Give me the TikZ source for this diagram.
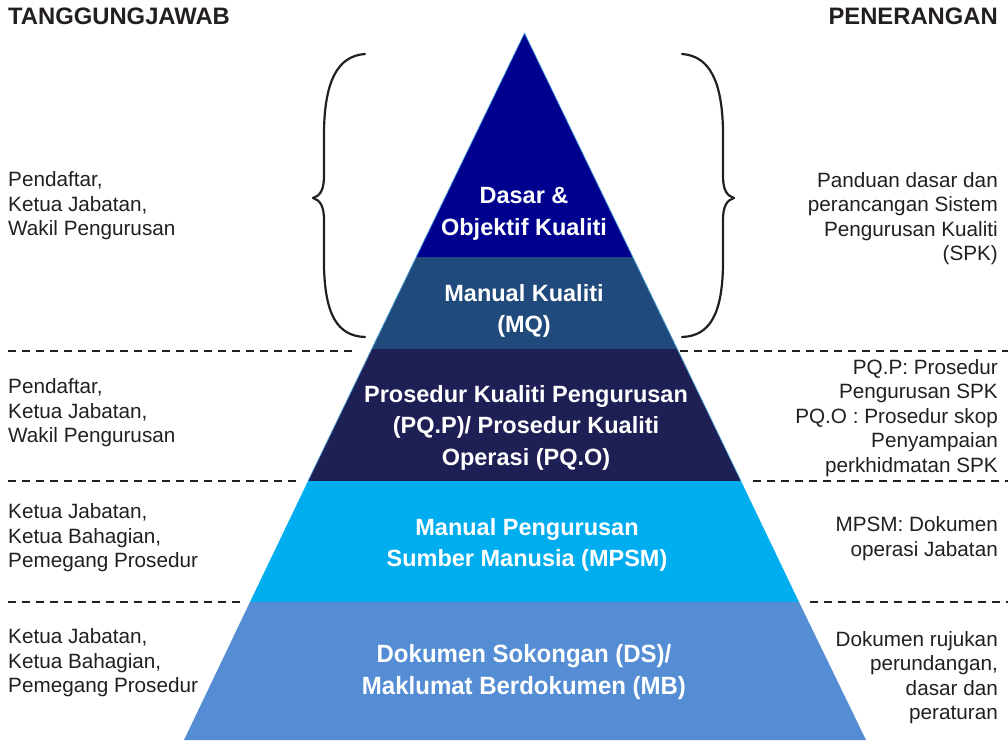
\documentclass[tikz,border=0pt]{standalone}
\usepackage{fontspec}
\setmainfont{Liberation Sans}
\usepackage{graphicx}
\definecolor{txt}{HTML}{231F20}
\definecolor{cA}{HTML}{00008F}
\definecolor{cB}{HTML}{214A7C}
\definecolor{cC}{HTML}{1E1F54}
\definecolor{cD}{HTML}{00ADEE}
\definecolor{cE}{HTML}{548DD4}
\definecolor{edge}{HTML}{4FB3E8}
\begin{document}
\begin{tikzpicture}[x=1pt,y=-1pt,
  side/.style={font=\fontsize{20.7}{24.5}\selectfont, text=txt, inner sep=0pt},
  lside/.style={side, anchor=west, align=left},
  rside/.style={side, anchor=east, align=right},
  head/.style={font=\bfseries\fontsize{23.8}{27}\selectfont, text=txt, inner sep=0pt},
  lay/.style={font=\bfseries\fontsize{23.5}{31.5}\selectfont, text=white, align=center, inner sep=0pt},
  sep/.style={txt, line width=1.2pt, dash pattern=on 8pt off 6pt},
  brace/.style={txt, line width=2.2pt, line cap=round, line join=round}]
\useasboundingbox (0,0) rectangle (1008,741);

% pyramid coordinates
\coordinate (ap) at (524.5,33);
\coordinate (a1) at (416,257);   \coordinate (b1) at (633,257);
\coordinate (a2) at (371.5,349); \coordinate (b2) at (677.5,349);
\coordinate (a3) at (308,481);   \coordinate (b3) at (741,481);
\coordinate (a4) at (250,602);   \coordinate (b4) at (799,602);
\coordinate (a5) at (184,740);   \coordinate (b5) at (866,740);

\fill[cA] (ap) -- (b1) -- (a1) -- cycle;
\fill[cB] (a1) -- (b1) -- (b2) -- (a2) -- cycle;
\fill[cC] (a2) -- (b2) -- (b3) -- (a3) -- cycle;
\fill[cD] (a3) -- (b3) -- (b4) -- (a4) -- cycle;
\fill[cE] (a4) -- (b4) -- (b5) -- (a5) -- cycle;
\draw[edge, line width=0.6pt] (a3) -- (ap) -- (b3);

% headers
\node[head, anchor=west] (hL) at (8,16) {TANGGUNGJAWAB};
\node[head, anchor=east] (hR) at (998,16) {PENERANGAN};

% layer labels
\node[lay] (l1) at (524,214) {Dasar \&\\Objektif Kualiti};
\node[lay] (l2) at (524,311) {Manual Kualiti\\(MQ)};
\node[lay] (l3) at (526,427.5) {Prosedur Kualiti Pengurusan\\(PQ.P)/ Prosedur Kualiti\\Operasi (PQ.O)};
\node[lay] (l4) at (527,545) {Manual Pengurusan\\Sumber Manusia (MPSM)};
\node[lay, font=\bfseries\fontsize{25}{32}\selectfont] (l5) at (524,672.5) {\scalebox{0.96}[1]{Dokumen Sokongan (DS)/}\\\scalebox{0.96}[1]{Maklumat Berdokumen (MB)}};

% left texts
\node[lside] (t1) at (8,206) {Pendaftar,\\Ketua Jabatan,\\Wakil Pengurusan};
\node[lside] (t2) at (8,413) {Pendaftar,\\Ketua Jabatan,\\Wakil Pengurusan};
\node[lside] (t3) at (8,538) {Ketua Jabatan,\\Ketua Bahagian,\\Pemegang Prosedur};
\node[lside] (t4) at (8,663) {Ketua Jabatan,\\Ketua Bahagian,\\Pemegang Prosedur};

% right texts
\node[rside] (r1) at (998,218.5) {Panduan dasar dan\\perancangan Sistem\\Pengurusan Kualiti\\(SPK)};
\node[rside] (r2) at (998,418) {PQ.P: Prosedur\\Pengurusan SPK\\PQ.O : Prosedur skop\\Penyampaian\\perkhidmatan SPK};
\node[rside] (r3) at (998,538.5) {MPSM: Dokumen\\operasi Jabatan};
\node[rside] (r4) at (998,677.5) {Dokumen rujukan\\perundangan,\\dasar dan\\peraturan};

% dashed separators
\coordinate (dl1a) at (8,351);  \coordinate (dl1b) at (355,351);
\coordinate (dl2a) at (8,481);  \coordinate (dl2b) at (298,481);
\coordinate (dl3a) at (8,602);  \coordinate (dl3b) at (243,602);
\coordinate (dr1a) at (680,351); \coordinate (dr1b) at (1008,351);
\coordinate (dr2a) at (753,481); \coordinate (dr2b) at (1008,481);
\coordinate (dr3a) at (810,602); \coordinate (dr3b) at (1008,602);
\draw[sep] (dl1a) -- (dl1b);
\draw[sep] (dl2a) -- (dl2b);
\draw[sep] (dl3a) -- (dl3b);
\draw[sep] (dr1a) -- (dr1b);
\draw[sep] (dr2a) -- (dr2b);
\draw[sep] (dr3a) -- (dr3b);

% braces
\draw[brace] (365,54) .. controls (337,56) and (325,82) .. (324,130) -- (324,176)
  .. controls (324,190) and (320,196) .. (313,198)
  .. controls (320,200) and (324,206) .. (324,220) -- (324,266)
  .. controls (325,314) and (337,336) .. (365,337);
\draw[brace] (682,54) .. controls (710,56) and (722,82) .. (723,130) -- (723,176)
  .. controls (723,190) and (727,196) .. (734,198)
  .. controls (727,200) and (723,206) .. (723,220) -- (723,266)
  .. controls (722,314) and (710,336) .. (682,337);
\end{tikzpicture}
\end{document}
